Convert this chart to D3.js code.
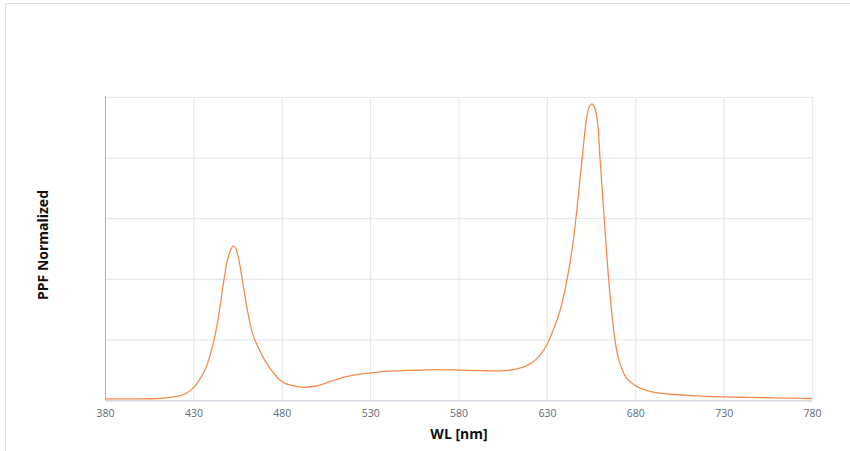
<!DOCTYPE html>
<html lang="en">
<head>
<style>
  body { margin: 0; background: #fff; }
  svg { display: block; font-family: "Open Sans", sans-serif; }
</style>
<script src="https://d3js.org/d3.v7.min.js"></script>
</head>
<body>
<svg width="850" height="451"></svg>
<script>
// wavelength (nm) and normalized PPF
var wl = [380, 390, 400, 410, 415, 420, 425, 430, 434, 437, 440, 442, 444, 447, 449, 451, 452.6, 454, 456, 458,
          460, 462, 464, 467, 470, 473, 476, 479, 482, 485, 490, 494, 500, 505, 510, 518, 530, 541, 554, 568,
          579, 592, 603, 610, 614, 618, 621, 624, 627, 630, 633, 636, 638.5, 641, 643, 645, 647, 648.5, 650.5, 652.5,
          654, 655.4, 657, 658.5, 660, 662, 664, 666, 668, 670, 672, 674, 676, 679, 681, 685, 690, 695, 700, 710,
          720, 730, 740, 750, 760, 770, 780];
var ppf = [0.004, 0.004, 0.004, 0.005, 0.007, 0.011, 0.019, 0.040, 0.072, 0.105, 0.158, 0.205, 0.268, 0.385, 0.455, 0.495, 0.508, 0.500, 0.455, 0.385,
           0.315, 0.255, 0.210, 0.170, 0.135, 0.108, 0.085, 0.066, 0.055, 0.049, 0.043, 0.042, 0.047, 0.056, 0.066, 0.079, 0.089, 0.095, 0.098, 0.100,
           0.099, 0.097, 0.096, 0.099, 0.104, 0.112, 0.121, 0.135, 0.155, 0.183, 0.222, 0.268, 0.318, 0.385, 0.450, 0.528, 0.630, 0.715, 0.830, 0.930,
           0.968, 0.977, 0.965, 0.925, 0.805, 0.635, 0.470, 0.330, 0.220, 0.150, 0.110, 0.082, 0.066, 0.052, 0.044, 0.034, 0.026, 0.022, 0.019, 0.015,
           0.012, 0.010, 0.009, 0.008, 0.007, 0.006, 0.005];
var xTicks = [380, 430, 480, 530, 580, 630, 680, 730, 780];
var yTicks = [0, 0.2, 0.4, 0.6, 0.8, 1];

var svg = d3.select("svg"),
    plotL = 105, plotR = 812, plotT = 97, plotB = 400;

var x = d3.scaleLinear().domain([380, 780]).range([plotL, plotR]),
    y = d3.scaleLinear().domain([0, 1]).range([plotB, plotT]);

// outer frame
svg.append("rect")
    .attr("x", 5.5).attr("y", 3.5)
    .attr("width", 850).attr("height", 470)
    .attr("fill", "none").attr("stroke", "#e0e0e4");

// grid
svg.append("g").selectAll("line").data(xTicks).enter().append("line")
    .attr("x1", d => x(d) + 0.5).attr("x2", d => x(d) + 0.5)
    .attr("y1", plotT).attr("y2", plotB)
    .attr("stroke", "#e6e9ef").attr("stroke-width", 1.2);
svg.append("g").selectAll("line").data(yTicks).enter().append("line")
    .attr("x1", plotL).attr("x2", plotR)
    .attr("y1", d => y(d) + 0.5).attr("y2", d => y(d) + 0.5)
    .attr("stroke", "#e6e9ef").attr("stroke-width", 1.2);

// bottom axis
var gx = svg.append("g")
    .attr("transform", "translate(0," + (plotB + 0.5) + ")")
    .call(d3.axisBottom(x).tickValues(xTicks).tickSize(0).tickPadding(9));
gx.select(".domain").attr("stroke", "#c5ccd6");
gx.selectAll("text").attr("fill", "#5f6b7a").attr("font-size", "10.5px").attr("font-family", "Open Sans");

// left axis line
svg.append("line")
    .attr("x1", plotL + 0.5).attr("x2", plotL + 0.5)
    .attr("y1", plotT - 1).attr("y2", plotB)
    .attr("stroke", "#aeb6c3");

// curve
var pts = wl.map((d, i) => [d, ppf[i]]);
svg.append("path")
    .datum(pts)
    .attr("fill", "none")
    .attr("stroke", "#f28c50")
    .attr("stroke-width", 1.3)
    .attr("d", d3.line().x(d => x(d[0])).y(d => y(d[1])).curve(d3.curveCatmullRom.alpha(0.5)));

// axis titles
svg.append("text")
    .attr("x", 459).attr("y", 439)
    .attr("text-anchor", "middle")
    .attr("font-size", "14px").attr("font-weight", "bold")
    .attr("fill", "#111")
    .text("WL [nm]");
svg.append("text")
    .attr("transform", "translate(48,245) rotate(-90)")
    .attr("text-anchor", "middle")
    .attr("font-size", "14px").attr("font-weight", "bold")
    .attr("fill", "#111")
    .text("PPF Normalized");
</script>
</body>
</html>
